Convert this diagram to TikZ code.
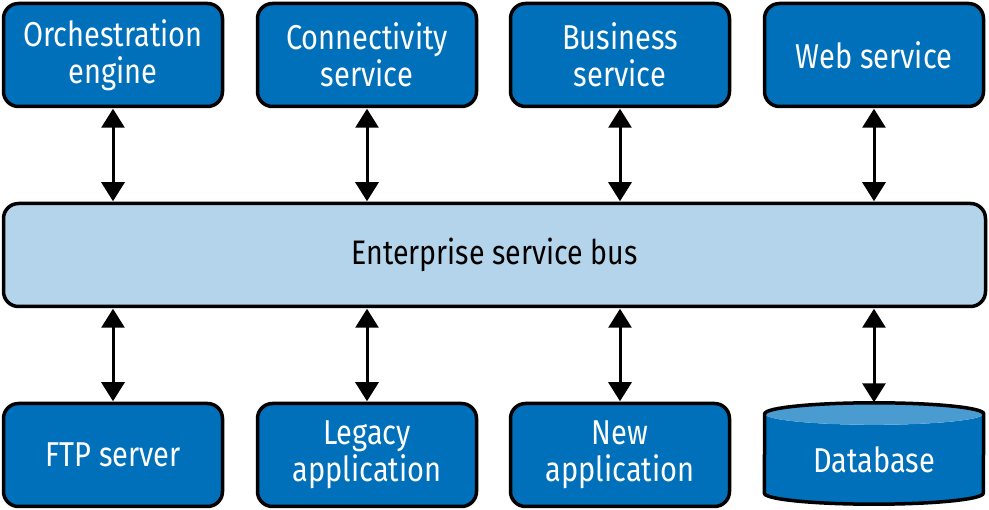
\documentclass[tikz,border=0pt]{standalone}
\usepackage{fontspec}
\setmainfont{Fira Sans}[FakeStretch=0.84]
\usetikzlibrary{arrows.meta,calc}
\definecolor{boxblue}{RGB}{0,112,186}
\definecolor{busblue}{RGB}{179,212,234}
\definecolor{dbtop}{RGB}{74,155,208}
\tikzset{
  svc/.style={draw=black, line width=3.5pt, fill=boxblue, rounded corners=15pt,
    minimum width=219pt, minimum height=103pt, text=white, align=center,
    font=\fontsize{34.5}{36.5}\selectfont, inner sep=0pt},
  busbox/.style={draw=black, line width=3.5pt, fill=busblue, rounded corners=15pt,
    minimum width=982pt, minimum height=103pt, text=black,
    font=\fontsize{34}{36}\selectfont, inner sep=0pt},
  dbnode/.style={minimum width=219pt, minimum height=101pt, inner sep=0pt},
  dblab/.style={text=white, font=\fontsize{34.5}{36.5}\selectfont, inner sep=0pt},
  link/.style={line width=3pt, {Triangle[width=23pt,length=19pt]}-{Triangle[width=23pt,length=19pt]}, shorten <=0.5pt, shorten >=0.5pt}
}
\begin{document}
\begin{tikzpicture}[x=1pt,y=1pt]
\useasboundingbox (0,0) rectangle (989,-510);
% top row
\node[svc] (orch) at (113,-55) {Orchestration\\engine};
\node[svc] (conn) at (367,-55) {Connectivity\\service};
\node[svc] (bus1) at (620,-55) {Business\\service};
\node[svc] (web)  at (874,-55) {Web service};
% bus
\node[busbox] (esb) at (494.5,-255) {Enterprise service bus};
% bottom row
\node[svc] (ftp) at (113,-455) {FTP server};
\node[svc] (leg) at (367,-455) {Legacy\\application};
\node[svc] (newapp) at (620,-455) {New\\application};
% database
\node[dbnode] (db) at (874,-453.5) {};
\fill[boxblue] ([yshift=-11pt]db.north west) -- ([yshift=11pt]db.south west)
  arc[start angle=180,end angle=360,x radius=109.5pt,y radius=11pt]
  -- ([yshift=-11pt]db.north east)
  arc[start angle=0,end angle=-180,x radius=109.5pt,y radius=11pt] -- cycle;
\fill[dbtop] ([yshift=-11pt]db.north) ellipse[x radius=109.5pt,y radius=11pt];
\draw[line width=3.5pt] ([yshift=-11pt]db.north east)
  arc[start angle=0,end angle=180,x radius=109.5pt,y radius=11pt]
  -- ([yshift=11pt]db.south west)
  arc[start angle=180,end angle=360,x radius=109.5pt,y radius=11pt] -- cycle;
\node[dblab] (dblabel) at ([yshift=-6pt]db.center) {Database};
% links
\draw[link] (orch.south) -- (esb.north -| orch.south);
\draw[link] (conn.south) -- (esb.north -| conn.south);
\draw[link] (bus1.south) -- (esb.north -| bus1.south);
\draw[link] (web.south) -- (esb.north -| web.south);
\draw[link] (esb.south -| ftp.north) -- (ftp.north);
\draw[link] (esb.south -| leg.north) -- (leg.north);
\draw[link] (esb.south -| newapp.north) -- (newapp.north);
\draw[link] (esb.south -| db.north) -- (db.north);
\end{tikzpicture}
\end{document}
